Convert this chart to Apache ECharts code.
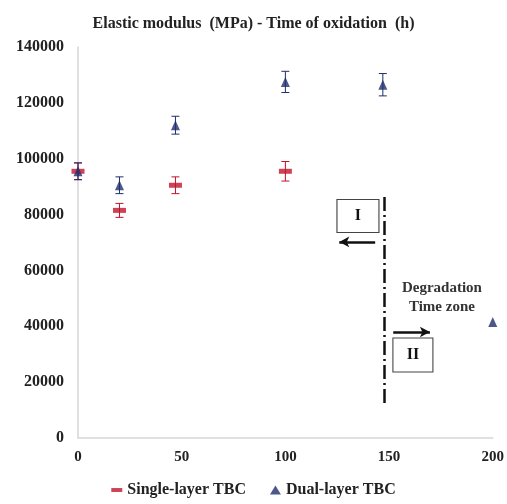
<!DOCTYPE html>
<html>
<head>
<meta charset="utf-8">
<script src="https://cdn.jsdelivr.net/npm/echarts@6/dist/echarts.min.js"></script>
<style>html,body{margin:0;padding:0;background:#fff}#c{width:507px;height:504px}</style>
</head>
<body>
<div id="c"></div>
<script>
const hours = [0, 20, 47, 100, 147, 200];
const singleLayer = [95500, 81500, 90500, 95500, null, null];
const singleErr = [3000, 2500, 3000, 3500, 0, 0];
const dualLayer = [95500, 90500, 112000, 127500, 126500, 41500];
const dualErr = [3000, 3000, 3200, 3800, 4000, 0];
const xTicks = [0, 50, 100, 150, 200];
const yTicks = [0, 20000, 40000, 60000, 80000, 100000, 120000, 140000];

const FONT = '"Liberation Serif", "DejaVu Serif", serif';
const RED = '#c0142a';
const NAVY = '#1f2e6e';

function pts(vals) {
  return hours.map((h, i) => vals[i] == null ? null : [h, vals[i]]).filter(Boolean);
}
function errs(vals, e) {
  return hours.map((h, i) => vals[i] == null || !e[i] ? null : [h, vals[i] - e[i], vals[i] + e[i]]).filter(Boolean);
}
function errRender(color) {
  return function (params, api) {
    const x = api.value(0);
    const lo = api.coord([x, api.value(1)]);
    const hi = api.coord([x, api.value(2)]);
    const w = 4;
    const st = { stroke: color, lineWidth: 1 };
    return {
      type: 'group', children: [
        { type: 'line', shape: { x1: lo[0], y1: lo[1], x2: hi[0], y2: hi[1] }, style: st },
        { type: 'line', shape: { x1: hi[0] - w, y1: hi[1], x2: hi[0] + w, y2: hi[1] }, style: st },
        { type: 'line', shape: { x1: lo[0] - w, y1: lo[1], x2: lo[0] + w, y2: lo[1] }, style: st }
      ]
    };
  };
}

const chart = echarts.init(document.getElementById('c'));
chart.setOption({
  animation: false,
  title: {
    text: 'Elastic modulus  (MPa) - Time of oxidation  (h)',
    left: 'center', top: 11,
    textStyle: { fontFamily: FONT, fontWeight: 'bold', fontSize: 16, color: '#222' }
  },
  legend: {
    bottom: 1, left: 'center', itemGap: 24, itemWidth: 11, itemHeight: 9,
    textStyle: { fontFamily: FONT, fontWeight: 'bold', fontSize: 16, color: '#222' },
    data: [
      { name: 'Single-layer TBC', icon: 'path://M0 0H14V5H0Z' },
      { name: 'Dual-layer TBC', icon: 'triangle' }
    ]
  },
  grid: { left: 78, right: 14, top: 47, bottom: 66 },
  xAxis: {
    type: 'value', min: 0, max: 200, interval: 50,
    axisLine: { lineStyle: { color: '#d6d6d6', width: 1.5 } },
    axisTick: { show: false }, splitLine: { show: false },
    axisLabel: { fontFamily: FONT, fontWeight: 'bold', fontSize: 15, color: '#222', margin: 12,
      formatter: v => xTicks.includes(v) ? String(v) : '' }
  },
  yAxis: {
    type: 'value', min: 0, max: 140000, interval: 20000,
    axisLine: { show: true, lineStyle: { color: '#d6d6d6', width: 1.5 } },
    axisTick: { show: false }, splitLine: { show: false },
    axisLabel: { fontFamily: FONT, fontWeight: 'bold', fontSize: 16, color: '#222', margin: 14,
      formatter: v => yTicks.includes(v) ? String(v) : '' }
  },
  series: [
    { name: 'Single-layer TBC err', type: 'custom', renderItem: errRender(RED), data: errs(singleLayer, singleErr), z: 3 },
    { name: 'Dual-layer TBC err', type: 'custom', renderItem: errRender(NAVY), data: errs(dualLayer, dualErr), z: 3 },
    { name: 'Single-layer TBC', type: 'scatter', symbol: 'rect', symbolSize: [13, 5],
      itemStyle: { color: RED }, data: pts(singleLayer), z: 4 },
    { name: 'Dual-layer TBC', type: 'scatter', symbol: 'triangle', symbolSize: [9, 10],
      itemStyle: { color: NAVY }, data: pts(dualLayer), z: 5 },
    { name: 'zone', type: 'scatter', data: [], silent: true,
      markLine: {
        silent: true, symbol: 'none', animation: false, label: { show: false },
        lineStyle: { color: '#111', width: 2.5, type: [14, 4, 2, 4] },
        data: [[{ coord: [147.6, 12500] }, { coord: [147.6, 87700] }]]
      },
      markPoint: {
        silent: true, animation: false,
        data: [
          { name: 'I', coord: [135, 79500], symbol: 'rect', symbolSize: [42, 33],
            itemStyle: { color: '#fff', borderColor: '#444', borderWidth: 1 },
            label: { show: true, formatter: 'I', fontFamily: FONT, fontWeight: 'bold', fontSize: 16, color: '#111' } },
          { name: 'II', coord: [161.5, 29700], symbol: 'rect', symbolSize: [40, 34],
            itemStyle: { color: '#fff', borderColor: '#444', borderWidth: 1 },
            label: { show: true, formatter: 'II', fontFamily: FONT, fontWeight: 'bold', fontSize: 16, color: '#111' } },
          { name: 'txt', coord: [175.5, 50300], symbol: 'rect', symbolSize: 0,
            itemStyle: { color: 'transparent' },
            label: { show: true, formatter: 'Degradation\nTime zone', fontFamily: FONT, fontWeight: 'bold',
              fontSize: 15, lineHeight: 19, color: '#333', align: 'center' } }
        ]
      }
    },
    { name: 'arrows', type: 'scatter', data: [], silent: true,
      markLine: {
        silent: true, animation: false, symbol: ['none', 'arrow'], symbolSize: [8, 10],
        label: { show: false },
        lineStyle: { color: '#111', width: 2.5, type: 'solid' },
        data: [
          [{ coord: [143.3, 70200] }, { coord: [126, 70200] }],
          [{ coord: [152, 37950] }, { coord: [169.7, 37950] }]
        ]
      }
    }
  ]
});
</script>
</body>
</html>
